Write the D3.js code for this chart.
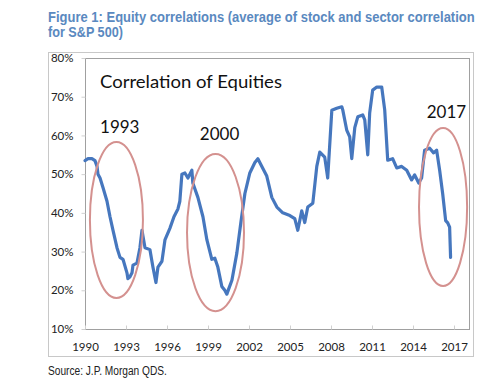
<!DOCTYPE html>
<html><head><meta charset="utf-8">
<script src="https://cdn.jsdelivr.net/npm/d3@7"></script>
<style>body{margin:0;background:#fff}svg{display:block}</style>
</head><body>
<svg id="c" width="500" height="392"></svg>
<script>
const years = [1990.00,1990.22,1990.51,1990.73,1990.88,1990.95,1991.10,1991.32,1991.61,1991.83,1992.05,1992.34,1992.56,1992.78,1993.07,1993.14,1993.29,1993.44,1993.51,1993.80,1994.02,1994.17,1994.24,1994.39,1994.75,1994.97,1995.19,1995.34,1995.63,1995.85,1996.21,1996.51,1996.80,1996.94,1997.09,1997.31,1997.53,1997.82,1997.89,1998.26,1998.63,1998.92,1999.28,1999.50,1999.72,2000.01,2000.23,2000.38,2000.53,2000.75,2001.11,2001.40,2001.70,2002.06,2002.43,2002.65,2002.94,2003.30,2003.67,2004.04,2004.47,2004.99,2005.35,2005.57,2005.86,2006.08,2006.30,2006.67,2006.96,2007.18,2007.54,2007.76,2008.06,2008.42,2008.79,2008.86,2009.15,2009.37,2009.52,2009.74,2009.96,2010.32,2010.47,2010.69,2010.83,2011.05,2011.35,2011.71,2011.93,2012.15,2012.51,2012.81,2013.17,2013.54,2013.90,2014.12,2014.42,2014.63,2014.85,2015.22,2015.51,2015.73,2015.95,2016.17,2016.39,2016.54,2016.68,2016.75];
const correlation = [53.5,54,54,53.5,52,50,49,46.5,43,39,35.5,31,28.5,28,24.5,23,23.5,24.5,26.5,27,31,35.5,34,31,30.5,26,22,26,27.5,33,36,39,41,43,50,50.3,49,51,47.7,44,39,33,28,28.3,26,21,20,19,20.5,22.6,29.6,37.4,45,50.3,53,54,52,49.5,44,41.5,40,39.3,38.5,35.5,40.5,37.5,41.5,42.5,52,55.7,54.4,49,66.5,67,67.4,66.6,61.4,59.6,54,62,64.8,65.3,64,55,65.8,71.7,72.5,72.5,66.6,53.6,54,51.6,52,51,48.5,49.8,47.7,49,56.2,56.7,55.5,56.2,51,45,38,37.4,36.3,28.5];
const xTicks = [1990,1993,1996,1999,2002,2005,2008,2011,2014,2017];
const yTicks = [10,20,30,40,50,60,70,80];
const annotations = [
  {label:"1993", year:1991.1, val:60.6, cx:1992.30, cy:38.15, rx:1.94, ry:20.15},
  {label:"2000", year:1998.4, val:58.8, cx:1999.55, cy:34.9, rx:2.085, ry:20.3},
  {label:"2017", year:2015.0, val:64.5, cx:2016.2, cy:41.5, rx:1.76, ry:20.4}
];
const titleLines = ["Figure 1: Equity correlations (average of stock and sector correlation","for S&P 500)"];
const sourceText = "Source: J.P. Morgan QDS.";
const chartLabel = "Correlation of Equities";

const svg = d3.select("#c");
const L=85,R=469,T=58,B=329;
const x = d3.scaleLinear().domain([1990,2017]).range([85,454]);
const y = d3.scaleLinear().domain([10,80]).range([B,T]);

const narrow = "'Liberation Sans Narrow','Arial Narrow','Liberation Sans',Arial,sans-serif";
const tfont = "Lato,'Open Sans',sans-serif";

// text squeezed horizontally to a target width via transform
function fitText(str, px, py, w, attrs){
  const g = svg.append("g");
  const t = g.append("text").attr("x",0).attr("y",0).text(str);
  Object.entries(attrs).forEach(([k,v])=>t.attr(k,v));
  const nat = t.node().getComputedTextLength();
  g.attr("transform",`translate(${px},${py}) scale(${w/nat},1)`);
  return t;
}

// title
const tAttrs = {"font-family":narrow,"font-weight":"bold","font-size":14,"fill":"#5a89c0"};
fitText(titleLines[0],48,22,427,tAttrs);
fitText(titleLines[1],48,37,75,tAttrs);

// outer box
svg.append("rect").attr("x",48.5).attr("y",52.5).attr("width",425).attr("height",304)
  .attr("fill","none").attr("stroke","#c8c8c8").attr("stroke-width",1);
// plot frame
svg.append("rect").attr("x",L+0.5).attr("y",T+0.5).attr("width",R-L).attr("height",B-T)
  .attr("fill","none").attr("stroke","#a0a0a0").attr("stroke-width",1);

// y axis
const yAxis = d3.axisLeft(y).tickValues(yTicks).tickSize(4).tickPadding(8).tickFormat(d=>d+"%");
const gy = svg.append("g").attr("transform",`translate(${L+0.5},0)`).call(yAxis);
gy.select(".domain").remove();
gy.selectAll(".tick line").attr("stroke","#d0d0d0");
gy.selectAll("text").attr("font-family",tfont).attr("font-size",11.5).attr("fill","#222");

// x axis
const xAxis = d3.axisBottom(x).tickValues(xTicks).tickSize(-4).tickPadding(13).tickFormat(d3.format("d"));
const gx = svg.append("g").attr("transform",`translate(0,${B+0.5})`).call(xAxis);
gx.select(".domain").remove();
gx.selectAll(".tick line").attr("stroke","#d0d0d0");
gx.selectAll("text").attr("font-family",tfont).attr("font-size",11.5).attr("fill","#222");

// data line
const data = years.map((yr,i)=>({yr, v:correlation[i]}));
svg.append("path").datum(data)
  .attr("d", d3.line().x(d=>x(d.yr)).y(d=>y(d.v)))
  .attr("fill","none").attr("stroke","#4677be").attr("stroke-width",3.2)
  .attr("stroke-linejoin","round").attr("stroke-linecap","round");

// ellipses + labels
annotations.forEach(a=>{
  svg.append("ellipse")
    .attr("cx",x(a.cx)).attr("cy",y(a.cy))
    .attr("rx",x(1990+a.rx)-x(1990)).attr("ry",y(10)-y(10+a.ry))
    .attr("fill","none").attr("stroke","#d4918f").attr("stroke-width",2);
  svg.append("text").attr("x",x(a.year)).attr("y",y(a.val)).text(a.label)
    .attr("font-family",tfont).attr("font-size",17).attr("fill","#111");
});

fitText(chartLabel,100,88,182,{"font-family":tfont,"font-size":17.5,"fill":"#111"});

// source
fitText(sourceText,48,375,119,{"font-family":narrow,"font-size":12.5,"fill":"#222"});
</script>
</body></html>
